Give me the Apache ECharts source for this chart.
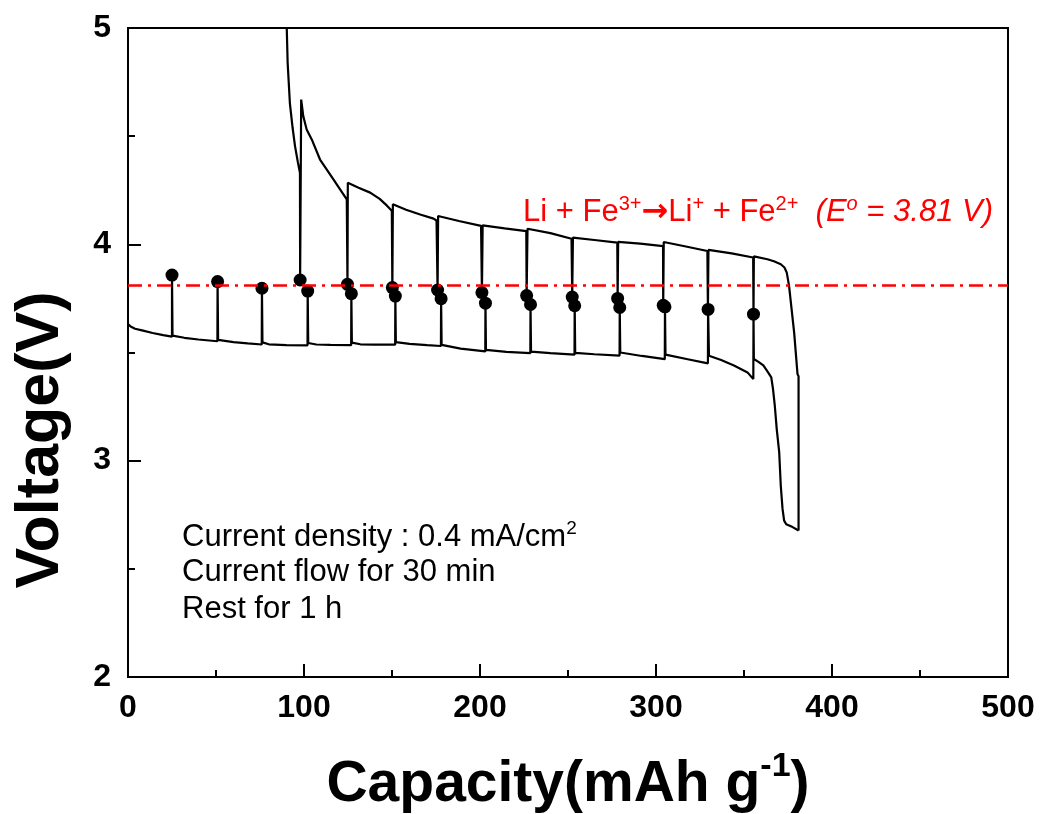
<!DOCTYPE html>
<html>
<head>
<meta charset="utf-8">
<title>GITT</title>
<script src="https://cdn.jsdelivr.net/npm/echarts@6/dist/echarts.min.js"></script>
<style>
  html, body { margin: 0; padding: 0; background: #fff; }
  #gitt-chart { width: 1042px; height: 814px; }
</style>
</head>
<body>
<div id="gitt-chart"></div>
<script>
// discharge pulses + rest (capacity, voltage)
var discharge = [
  [0, 3.632], [1.5, 3.62], [4, 3.61], [8, 3.602], [14, 3.59], [20, 3.58], [25, 3.573],
  [25, 3.858],
  [25.3, 3.578], [32, 3.568], [40, 3.56], [50.8, 3.552],
  [50.9, 3.828],
  [51.2, 3.558], [60, 3.548], [68, 3.542], [76, 3.537],
  [76.1, 3.797],
  [76.4, 3.547], [80, 3.538], [90, 3.534], [102, 3.533],
  [102.1, 3.784],
  [102.4, 3.544], [107, 3.537], [115, 3.535], [126.8, 3.534],
  [126.9, 3.772],
  [127.2, 3.546], [132, 3.538], [140, 3.536], [151.8, 3.536],
  [151.9, 3.761],
  [152.2, 3.548], [160, 3.54], [170, 3.534], [177.8, 3.53],
  [177.9, 3.749],
  [178.2, 3.535], [189, 3.518], [203, 3.505],
  [203.1, 3.728],
  [203.4, 3.512], [215, 3.503], [228.6, 3.497],
  [228.7, 3.722],
  [229, 3.504], [240, 3.497], [253.7, 3.49],
  [253.8, 3.716],
  [254.1, 3.498], [265, 3.492], [279.3, 3.486],
  [279.4, 3.708],
  [279.7, 3.5], [292, 3.484], [305, 3.469],
  [305.1, 3.711],
  [305.4, 3.49], [318, 3.469], [329.5, 3.45],
  [329.6, 3.699],
  [330.1, 3.485], [337, 3.465], [344.3, 3.44], [352, 3.408], [355.3, 3.377],
  [355.4, 3.677],
  [355.6, 3.47], [358, 3.458], [361, 3.44], [363.5, 3.41], [365.5, 3.385], [366.5, 3.33],
  [367.5, 3.254], [368.6, 3.146], [370, 3.039], [370.9, 2.884], [371.9, 2.777],
  [372.8, 2.723], [374, 2.706], [377.6, 2.693], [381, 2.677]
];

// charge pulses + rest, listed by capacity
var charge = [
  [90.2, 5.0], [90.7, 4.84], [92, 4.65], [93.5, 4.54], [94.9, 4.454], [96.5, 4.38], [97.7, 4.331],
  [97.8, 3.835],
  [98.4, 4.669], [99.6, 4.592], [101.5, 4.531], [104.4, 4.485], [109.1, 4.392], [116.7, 4.3], [120.5, 4.254], [124.3, 4.208],
  [124.7, 3.815],
  [124.9, 4.285], [131, 4.262], [137.6, 4.239], [143, 4.21], [147, 4.18], [149.9, 4.155],
  [150.2, 3.8],
  [150.5, 4.185], [158, 4.16], [166, 4.138], [173.6, 4.119], [175.3, 4.11],
  [175.9, 3.789],
  [176.2, 4.131], [188, 4.108], [200.6, 4.085],
  [201.1, 3.777],
  [201.5, 4.088], [214, 4.074], [226.3, 4.061],
  [226.5, 3.763],
  [227, 4.072], [240, 4.052], [252, 4.026],
  [252.4, 3.756],
  [252.8, 4.031], [265, 4.02], [278, 4.008],
  [278.2, 3.75],
  [278.5, 4.011], [291, 4.003], [304, 3.992],
  [304.1, 3.718],
  [304.4, 4.011], [317, 3.99], [329.2, 3.969],
  [329.5, 3.699],
  [329.8, 3.974], [343, 3.958], [355.2, 3.939],
  [355.4, 3.677],
  [355.6, 3.944], [363.3, 3.931], [367, 3.922], [370.9, 3.908], [373, 3.893], [374.3, 3.869],
  [375.6, 3.808], [378.5, 3.592], [380.4, 3.4], [381, 3.39], [381, 2.677]
];

// open-circuit points after each rest
var restDischarge = [
  [25, 3.858], [50.9, 3.828], [76.1, 3.797], [102.1, 3.784], [126.9, 3.772], [151.9, 3.761],
  [177.9, 3.749], [203.1, 3.728], [228.7, 3.722], [253.8, 3.716], [279.4, 3.708],
  [305.1, 3.711], [329.6, 3.699], [355.4, 3.677]
];
var restCharge = [
  [97.8, 3.835], [124.7, 3.815], [150.2, 3.8], [175.9, 3.789], [201.1, 3.777],
  [226.5, 3.763], [252.4, 3.756], [278.2, 3.75], [304.1, 3.718]
];

var e0 = 3.81;

var FONT = 'Liberation Sans, Arial, sans-serif';
var RED = '#ff0000';

var chart = echarts.init(document.getElementById('gitt-chart'));

var option = {
  animation: false,
  backgroundColor: '#fff',
  grid: {
    left: 128, top: 28, right: 34, bottom: 137,
    show: true, borderColor: '#000', borderWidth: 2,
    outerBoundsMode: 'none'
  },
  xAxis: {
    type: 'value',
    min: 0, max: 500, interval: 100,
    name: '{a|Capacity(mAh g}{s|-1}{a|)}',
    nameLocation: 'middle',
    nameGap: 73,
    nameTextStyle: {
      rich: {
        a: { fontFamily: FONT, fontWeight: 'bold', fontSize: 57, lineHeight: 70, color: '#000' },
        s: { fontFamily: FONT, fontWeight: 'bold', fontSize: 34, lineHeight: 17, verticalAlign: 'top', color: '#000' }
      }
    },
    axisLine: { onZero: false, lineStyle: { color: '#000', width: 2 } },
    axisTick: { inside: true, length: 13, lineStyle: { color: '#000', width: 2 } },
    minorTick: { show: true, splitNumber: 2, length: 7, lineStyle: { color: '#000', width: 2 } },
    axisLabel: { margin: 15, fontFamily: FONT, fontWeight: 'bold', fontSize: 32, color: '#000' },
    splitLine: { show: false }
  },
  yAxis: {
    type: 'value',
    min: 2, max: 5, interval: 1,
    axisLine: { onZero: false, lineStyle: { color: '#000', width: 2 } },
    axisTick: { inside: true, length: 13, lineStyle: { color: '#000', width: 2 } },
    minorTick: { show: true, splitNumber: 2, length: 7, lineStyle: { color: '#000', width: 2 } },
    axisLabel: { margin: 17, fontFamily: FONT, fontWeight: 'bold', fontSize: 32, color: '#000' },
    splitLine: { show: false }
  },
  graphic: [
    {
      type: 'text',
      x: 41, y: 440,
      rotation: Math.PI / 2,
      style: {
        text: 'Voltage(V)',
        align: 'center', verticalAlign: 'middle',
        font: 'bold 61px ' + FONT,
        fill: '#000'
      }
    },
    {
      type: 'text',
      left: 523, top: 194,
      style: {
        text: '{a|Li + Fe}{s|3+}{r|\u2192}{a|Li}{s|+}{a| + Fe}{s|2+}{a|  }{i|(E}{si|o}{i| = 3.81 V)}',
        rich: {
          a: { fontFamily: FONT, fontSize: 31, lineHeight: 37, fill: RED },
          s: { fontFamily: FONT, fontSize: 20, lineHeight: 23, verticalAlign: 'top', fill: RED },
          r: { fontFamily: 'DejaVu Sans', fontWeight: 'bold', fontSize: 32, lineHeight: 37, fill: RED },
          i: { fontFamily: FONT, fontStyle: 'italic', fontSize: 31, lineHeight: 37, fill: RED },
          si: { fontFamily: FONT, fontStyle: 'italic', fontSize: 20, lineHeight: 23, verticalAlign: 'top', fill: RED }
        }
      }
    },
    {
      type: 'text',
      left: 182, top: 519,
      style: {
        text: '{a|Current density : 0.4 mA/cm}{s|2}',
        rich: {
          a: { fontFamily: FONT, fontSize: 31, lineHeight: 36, fill: '#000' },
          s: { fontFamily: FONT, fontSize: 19, lineHeight: 20, verticalAlign: 'top', fill: '#000' }
        }
      }
    },
    {
      type: 'text',
      left: 182, top: 554,
      style: { text: 'Current flow for 30 min', font: '31px ' + FONT, fill: '#000', lineHeight: 36 }
    },
    {
      type: 'text',
      left: 182, top: 591,
      style: { text: 'Rest for 1 h', font: '31px ' + FONT, fill: '#000', lineHeight: 36 }
    }
  ],
  series: [
    {
      name: 'discharge',
      type: 'line',
      data: discharge,
      showSymbol: false,
      lineStyle: { color: '#000', width: 2.2 },
      markLine: {
        silent: true,
        symbol: 'none',
        label: { show: false },
        lineStyle: { color: RED, width: 2.5, type: [14, 6, 3, 6] },
        data: [{ yAxis: e0 }]
      },
      z: 2
    },
    {
      name: 'charge',
      type: 'line',
      data: charge,
      showSymbol: false,
      lineStyle: { color: '#000', width: 2.2 },
      z: 2
    },
    {
      name: 'rest (discharge)',
      type: 'scatter',
      data: restDischarge,
      symbolSize: 13,
      itemStyle: { color: '#000', opacity: 1 },
      z: 3
    },
    {
      name: 'rest (charge)',
      type: 'scatter',
      data: restCharge,
      symbolSize: 13,
      itemStyle: { color: '#000', opacity: 1 },
      z: 3
    }
  ]
};

chart.setOption(option);
window.addEventListener('resize', function () { chart.resize(); });
</script>
</body>
</html>
